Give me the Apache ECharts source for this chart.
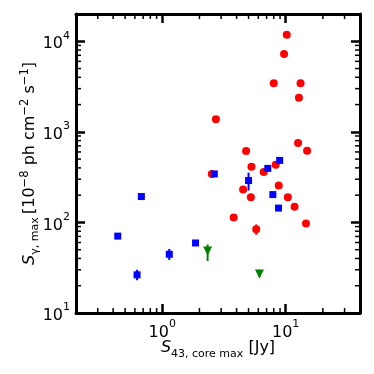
<!DOCTYPE html>
<html>
<head>
<meta charset="utf-8">
<script src="https://cdn.jsdelivr.net/npm/echarts@6/dist/echarts.min.js"></script>
<style>
  html, body { margin: 0; padding: 0; background: #fff; }
  #chart { width: 374px; height: 374px; }
</style>
</head>
<body>
<div id="chart"></div>
<script>
// ---- data ----
const redX = [10.2, 9.7, 8.0, 13.2, 12.8, 2.72, 12.6, 14.9, 4.78, 5.28, 8.3, 6.64, 2.52, 8.78, 4.52, 5.22, 10.4, 11.8, 3.79, 14.6, 5.77];
const redY = [11800, 7250, 3430, 3430, 2380, 1380, 752, 618, 615, 412, 433, 361, 343, 255, 231, 190, 190, 149, 113, 97, 84];
const redLo = [null, null, null, null, null, null, null, null, null, null, null, null, null, null, null, null, null, null, null, 92, 73];
const redHi = [null, null, null, null, null, null, null, null, null, null, null, null, null, null, null, null, null, null, null, 103, 95];

const blueX = [8.94, 7.16, 2.64, 5.0, 7.87, 8.75, 0.677, 0.436, 1.86, 1.14, 0.625];
const blueY = [484, 395, 343, 290, 203, 144, 193, 70.6, 59.3, 44.5, 26.4];
const blueLo = [null, null, null, 225, null, null, null, null, null, 38.5, 23];
const blueHi = [null, null, null, 354, null, null, null, null, null, 51, 30];

const greenX = [2.33, 6.13];
const greenY = [48.4, 27];
const greenLo = [37.5, 25];
const greenHi = [57, 30];

const xMin = 0.2, xMax = 40;
const yMin = 10, yMax = 20000;
const xMinor = [0.3, 0.4, 0.5, 0.6, 0.7, 0.8, 0.9, 2, 3, 4, 5, 6, 7, 8, 9, 20, 30];
const yMinor = [20, 30, 40, 50, 60, 70, 80, 90, 200, 300, 400, 500, 600, 700, 800, 900,
                2000, 3000, 4000, 5000, 6000, 7000, 8000, 9000];

const FONT = 'DejaVu Sans';

function zip(xs, ys) { return xs.map((x, i) => [x, ys[i]]); }
function errData(xs, lo, hi) {
  const out = [];
  xs.forEach((x, i) => { if (lo[i] != null) out.push([x, lo[i], hi[i]]); });
  return out;
}

function powLabel(v) {
  const e = Math.round(Math.log10(v));
  if (Math.abs(Math.log10(v) - e) > 1e-6) return '';
  return '{b|10}{s|' + e + '}';
}
const labelRich = {
  b: { fontFamily: FONT, fontSize: 16, color: '#000', lineHeight: 22, verticalAlign: 'bottom' },
  s: { fontFamily: FONT, fontSize: 11, color: '#000', lineHeight: 22, verticalAlign: 'top' }
};

const frameLine = { show: true, lineStyle: { color: '#000', width: 3 } };
const majorTick = { show: true, inside: true, length: 9, lineStyle: { color: '#000', width: 2.5 } };

function errSeries(data, color) {
  return {
    type: 'custom',
    silent: true,
    animation: false,
    data: data,
    z: 3,
    renderItem: function (params, api) {
      const p1 = api.coord([api.value(0), api.value(1)]);
      const p2 = api.coord([api.value(0), api.value(2)]);
      return {
        type: 'line',
        shape: { x1: p1[0], y1: p1[1], x2: p2[0], y2: p2[1] },
        style: { stroke: color, lineWidth: 2 }
      };
    }
  };
}

function minorSeries(values, isX) {
  return {
    type: 'custom',
    silent: true,
    animation: false,
    data: values.map(v => isX ? [v, 100] : [1, v]),
    z: 6,
    renderItem: function (params, api) {
      const cs = params.coordSys;
      const p = api.coord([api.value(0), api.value(1)]);
      const len = 5;
      const style = { stroke: '#000', lineWidth: 1.5 };
      if (isX) {
        return {
          type: 'group',
          children: [
            { type: 'line', shape: { x1: p[0], y1: cs.y + cs.height, x2: p[0], y2: cs.y + cs.height - len }, style: style },
            { type: 'line', shape: { x1: p[0], y1: cs.y, x2: p[0], y2: cs.y + len }, style: style }
          ]
        };
      }
      return {
        type: 'group',
        children: [
          { type: 'line', shape: { x1: cs.x, y1: p[1], x2: cs.x + len, y2: p[1] }, style: style },
          { type: 'line', shape: { x1: cs.x + cs.width, y1: p[1], x2: cs.x + cs.width - len, y2: p[1] }, style: style }
        ]
      };
    }
  };
}

const chart = echarts.init(document.getElementById('chart'), null, { renderer: 'canvas' });
chart.setOption({
  backgroundColor: '#fff',
  animation: false,
  grid: { left: 76, right: 14, top: 14, bottom: 61 },
  xAxis: [
    {
      type: 'log', logBase: 10, min: xMin, max: xMax, position: 'bottom',
      axisLine: frameLine, axisTick: majorTick, splitLine: { show: false },
      axisLabel: { formatter: powLabel, rich: labelRich, margin: 6 },
      name: '{i|S}{sub|43, core max}{n| [Jy]}',
      nameLocation: 'middle', nameGap: 27, nameMoveOverlap: false,
      nameTextStyle: {
        rich: {
          i: { fontFamily: FONT, fontSize: 16, fontStyle: 'italic', color: '#000', lineHeight: 20, verticalAlign: 'top' },
          sub: { fontFamily: FONT, fontSize: 11, color: '#000', lineHeight: 20, verticalAlign: 'bottom' },
          n: { fontFamily: FONT, fontSize: 16, color: '#000', lineHeight: 20, verticalAlign: 'top' }
        }
      }
    },
    {
      type: 'log', logBase: 10, min: xMin, max: xMax, position: 'top',
      axisLine: frameLine, axisTick: majorTick, splitLine: { show: false },
      axisLabel: { show: false }
    }
  ],
  yAxis: [
    {
      type: 'log', logBase: 10, min: yMin, max: yMax, position: 'left',
      axisLine: frameLine, axisTick: majorTick, splitLine: { show: false },
      axisLabel: { formatter: powLabel, rich: labelRich, margin: 6 },
      name: '{i|S}{sub|γ, max} {n|[10}{sup|−8}{n| ph cm}{sup|−2}{n| s}{sup|−1}{n|]}',
      nameLocation: 'middle', nameGap: 35, nameRotate: 90, nameMoveOverlap: false,
      nameTextStyle: {
        rich: {
          i: { fontFamily: FONT, fontSize: 16, fontStyle: 'italic', color: '#000', lineHeight: 22, verticalAlign: 'middle' },
          sub: { fontFamily: FONT, fontSize: 11, color: '#000', lineHeight: 22, verticalAlign: 'bottom' },
          n: { fontFamily: FONT, fontSize: 16, color: '#000', lineHeight: 22, verticalAlign: 'middle' },
          sup: { fontFamily: FONT, fontSize: 11.5, color: '#000', lineHeight: 22, verticalAlign: 'top' }
        }
      }
    },
    {
      type: 'log', logBase: 10, min: yMin, max: yMax, position: 'right',
      axisLine: frameLine, axisTick: majorTick, splitLine: { show: false },
      axisLabel: { show: false }
    }
  ],
  series: [
    minorSeries(xMinor, true),
    minorSeries(yMinor, false),
    errSeries(errData(redX, redLo, redHi), '#ff0000'),
    {
      type: 'scatter', data: zip(redX, redY), symbol: 'circle', symbolSize: 8,
      itemStyle: { color: '#ff0000', opacity: 1 }, z: 3
    },
    errSeries(errData(blueX, blueLo, blueHi), '#0000ff'),
    {
      type: 'scatter', data: zip(blueX, blueY), symbol: 'rect', symbolSize: 7,
      itemStyle: { color: '#0000ff', opacity: 1 }, z: 4
    },
    errSeries(errData(greenX, greenLo, greenHi), '#008000'),
    {
      type: 'scatter', data: zip(greenX, greenY), symbol: 'triangle', symbolSize: 9, symbolRotate: 180,
      itemStyle: { color: '#008000', opacity: 1 }, z: 5
    }
  ]
});
</script>
</body>
</html>
